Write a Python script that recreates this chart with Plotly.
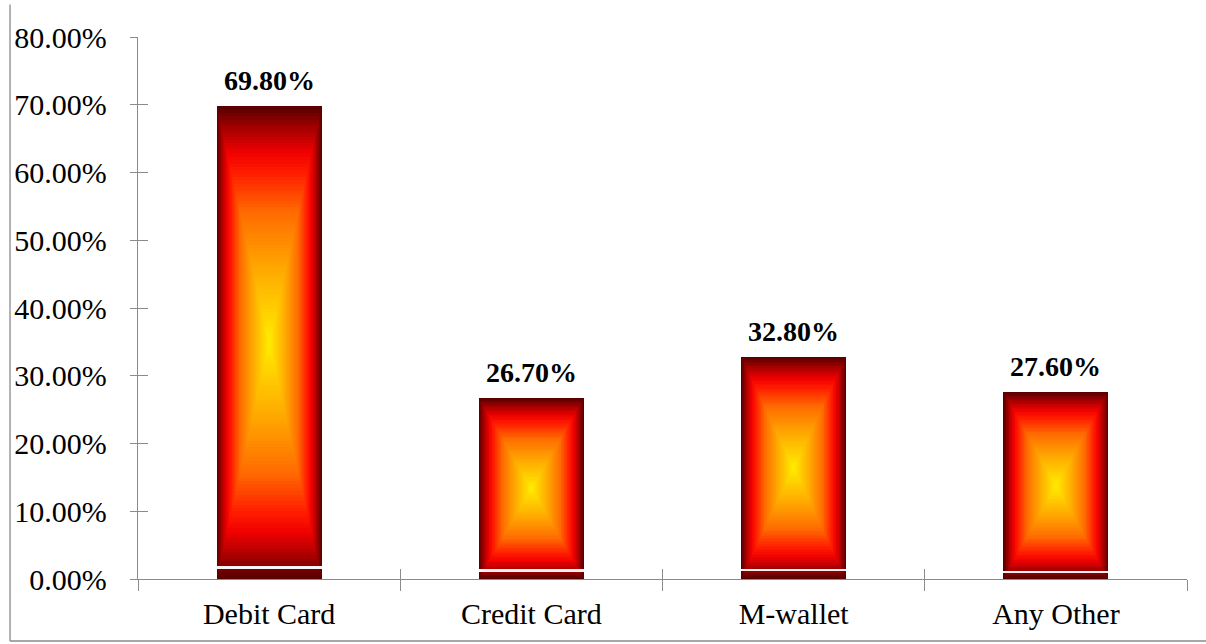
import plotly.graph_objects as go
from plotly.colors import sample_colorscale

# ---- data ----
categories = ["Debit Card", "Credit Card", "M-wallet", "Any Other"]
shares = [0.698, 0.267, 0.328, 0.276]
strip_level = [0.0148, 0.0108, 0.0115, 0.0089]   # thin white line near bar base
y_ticks = [0.0, 0.1, 0.2, 0.3, 0.4, 0.5, 0.6, 0.7, 0.8]

# ---- style ----
FONT = "Liberation Serif"
GREY = "#8a8a8a"
BAR_W = 0.40
N_LAYERS = 70
gradient = [
    [0.0, "#5a0000"],
    [0.09, "#a80000"],
    [0.19, "#f00000"],
    [0.27, "#ff1a00"],
    [0.44, "#ff6a00"],
    [0.68, "#ffa800"],
    [1.0, "#ffee00"],
]

fig = go.Figure()

# rectangular ("from centre") gradient built from nested overlaid bars
for i in range(N_LAYERS):
    t = i / N_LAYERS
    col = sample_colorscale(gradient, [t])[0]
    fig.add_trace(go.Bar(
        x=categories,
        y=[v * (1 - t) for v in shares],
        base=[v * t / 2 for v in shares],
        width=[BAR_W * (1 - t)] * len(categories),
        marker=dict(color=col, line=dict(width=0)),
        hoverinfo="skip",
        showlegend=False,
    ))

# thin white strip near the bottom of each bar (on the overlaying axes, so
# those axes - which carry the inward half of the cross ticks - are drawn)
fig.add_trace(go.Bar(
    x=list(range(len(categories))),
    y=[0.0045, 0.0033, 0.0033, 0.0033],
    base=strip_level,
    width=[BAR_W] * len(categories),
    marker=dict(color="#fbf3f3", line=dict(width=0)),
    xaxis="x2", yaxis="y2",
    hoverinfo="skip",
    showlegend=False,
))

# value labels
for c, v in zip(categories, shares):
    fig.add_annotation(
        x=c, y=v, text=f"<b>{v*100:.2f}%</b>", showarrow=False,
        yanchor="bottom", yshift=8,
        font=dict(family=FONT, size=28, color="black"),
    )

# outer frame (partially cropped in the reference)
fig.add_shape(type="line", xref="paper", yref="paper",
              x0=-0.122, x1=-0.122, y0=-0.1144, y1=1.06,
              line=dict(color=GREY, width=1.3))
fig.add_shape(type="line", xref="paper", yref="paper",
              x0=-0.122, x1=1.05, y0=-0.1144, y1=-0.1144,
              line=dict(color=GREY, width=1.3))

fig.update_layout(
    width=1206, height=644,
    margin=dict(l=138, r=19, t=37, b=65),
    paper_bgcolor="white", plot_bgcolor="white",
    barmode="overlay", bargap=0,
    font=dict(family=FONT, size=30, color="black"),
    xaxis=dict(
        type="category", range=[-0.5, 3.5],
        showline=True, linecolor=GREY, linewidth=1.3,
        ticks="outside", ticklen=11, tickcolor=GREY, tickwidth=1.3,
        tickson="boundaries", showgrid=False, zeroline=False,
        tickfont=dict(family=FONT, size=30, color="black"),
        ticklabelstandoff=8,
    ),
    xaxis2=dict(
        overlaying="x", anchor="y2", side="bottom", range=[-0.5, 3.5],
        tickmode="array", tickvals=[-0.5, 0.5, 1.5, 2.5, 3.5],
        ticks="inside", ticklen=10, tickcolor=GREY, tickwidth=1.3,
        showticklabels=False, showline=False, showgrid=False, zeroline=False,
    ),
    yaxis=dict(
        range=[0, 0.8], tickmode="array", tickvals=y_ticks, tickformat=".2%",
        showline=True, linecolor=GREY, linewidth=1.3,
        ticks="outside", ticklen=7, tickcolor=GREY, tickwidth=1.3,
        showgrid=False, zeroline=False,
        tickfont=dict(family=FONT, size=30, color="black"),
        ticklabelstandoff=17,
    ),
    yaxis2=dict(
        overlaying="y", anchor="x2", side="left", range=[0, 0.8],
        tickmode="array", tickvals=y_ticks,
        ticks="inside", ticklen=10, tickcolor=GREY, tickwidth=1.3,
        showticklabels=False, showline=False, showgrid=False, zeroline=False,
    ),
)

fig.write_html("out.html")
